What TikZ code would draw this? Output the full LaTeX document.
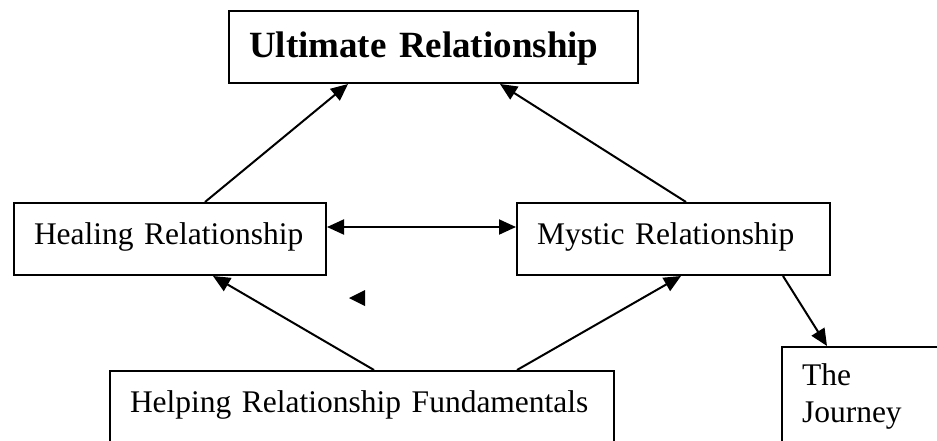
\documentclass[tikz,border=0pt]{standalone}
\usepackage{fontspec}
\setmainfont{Liberation Serif}
\usetikzlibrary{positioning}
\usetikzlibrary{arrows.meta}

\begin{document}
\begin{tikzpicture}[x=1pt,y=-1pt,>={Triangle[length=17pt,width=15pt]},
box/.style={draw,line width=2pt,anchor=north west,align=left,inner xsep=20pt,font=\fontsize{31.5}{37}\selectfont},
single/.style={box,minimum height=72pt,text height=22pt,text depth=11pt},
link/.style={line width=2pt,->}]
\clip (0,0) rectangle (937,440);
\node[single,text width=369pt,text height=28pt,text depth=8pt,font=\fontsize{37}{42}\selectfont\bfseries] (ult) at (228,10) {Ultimate Relationship};
\node[single,text width=272pt] (heal) at (13,202) {Healing Relationship};
\node[single,text width=273pt] (myst) at (516,202) {Mystic Relationship};
\node[single,text width=464pt] (help) at (109,370) {Helping Relationship Fundamentals};
\node[box,text width=170pt,inner ysep=17pt] (jour) at (781,346) {The\\Journey};
% connectors
\draw[link] ([xshift=35pt]heal.north) -- ([xshift=-85.5pt]ult.south);
\draw[link] ([xshift=12.5pt]myst.north) -- ([xshift=66.5pt]ult.south);
\draw[link,<->] ([yshift=12pt]heal.east) -- ([yshift=12pt]myst.west);
\draw[link] ([xshift=12pt]help.north) -- ([xshift=43pt]heal.south);
\draw[link] ([xshift=155pt]help.north) -- ([xshift=7.5pt]myst.south);
\draw[link] ([xshift=109.5pt]myst.south) -- ([xshift=46pt]jour.north west);
% lone arrow head
\coordinate (stray) at (365,298);
\fill (stray) -- ++(0,8) -- ++(-16,-8) -- ++(16,-8) -- cycle;
\end{tikzpicture}
\end{document}
